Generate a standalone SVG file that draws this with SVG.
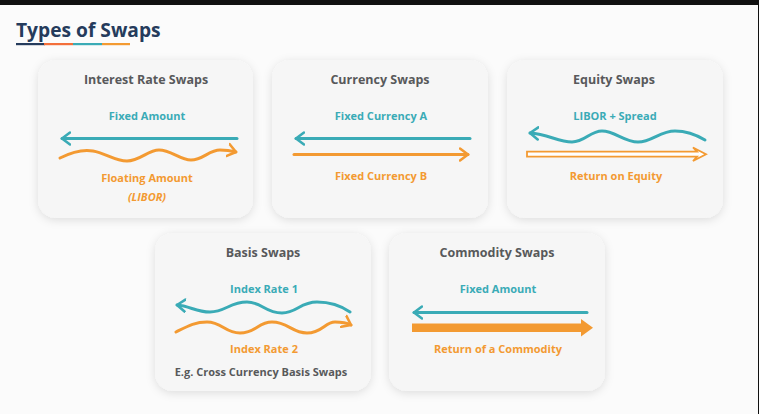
<svg xmlns="http://www.w3.org/2000/svg" width="759" height="414" viewBox="0 0 759 414">
<defs>
<filter id="sh" x="-20%" y="-20%" width="140%" height="140%">
<feDropShadow dx="0" dy="2" stdDeviation="5" flood-color="#000" flood-opacity="0.12"/>
</filter>
<marker id="mt" markerUnits="userSpaceOnUse" markerWidth="16" markerHeight="16" refX="9" refY="7" orient="auto" viewBox="0 0 16 14">
<path d="M1,1 L9,7 L1,13" fill="none" stroke="#3aabb6" stroke-width="2.6" stroke-linecap="round" stroke-linejoin="round"/>
</marker>
<marker id="mo" markerUnits="userSpaceOnUse" markerWidth="16" markerHeight="16" refX="9" refY="7" orient="auto" viewBox="0 0 16 14">
<path d="M1,1 L9,7 L1,13" fill="none" stroke="#f39a32" stroke-width="2.6" stroke-linecap="round" stroke-linejoin="round"/>
</marker>
</defs>
<style>
.card{fill:#f6f6f6;filter:url(#sh)}
.t{font-family:"Open Sans","Liberation Sans",sans-serif;font-weight:700;text-anchor:middle}
.h{font-size:12.5px;fill:#58595b}
.l{font-size:11px}
.tl{fill:#3aabb6}
.or{fill:#f39a32}
.g{fill:#58595b}
.st{stroke:#3aabb6;stroke-width:3;fill:none;stroke-linecap:round}
.so{stroke:#f39a32;stroke-width:3;fill:none;stroke-linecap:round}
</style>
<rect width="759" height="414" fill="#fbfbfb"/>
<rect width="759" height="5" fill="#111"/>
<rect x="758" width="1" height="414" fill="#111"/>
<g id="title">
<text x="16" y="37" font-family="'Open Sans','Liberation Sans',sans-serif" font-weight="700" font-size="19.2" fill="#253b5c">Types of Swaps</text>
<rect x="16" y="43" width="29" height="2.2" fill="#253b5c"/>
<rect x="44" y="43" width="29" height="2.2" fill="#f36f3a"/>
<rect x="73" y="43" width="29" height="2.2" fill="#3aabb6"/>
<rect x="102" y="43" width="28" height="2.2" fill="#f39a32"/>
</g>
<g id="interest-rate-swaps">
<rect class="card" x="38" y="60" width="215" height="158" rx="18"/>
<text class="t h" x="146" y="84">Interest Rate Swaps</text>
<text class="t l tl" x="147" y="120">Fixed Amount</text>
<text class="t l or" x="147" y="182">Floating Amount</text>
<text class="t l or" x="147" y="201" font-style="italic">(LIBOR)</text>
</g>
<g id="currency-swaps">
<rect class="card" x="272" y="60" width="216" height="158" rx="18"/>
<text class="t h" x="380" y="84">Currency Swaps</text>
<text class="t l tl" x="381" y="120">Fixed Currency A</text>
<text class="t l or" x="381" y="180">Fixed Currency B</text>
</g>
<g id="equity-swaps">
<rect class="card" x="507" y="60" width="216" height="158" rx="18"/>
<text class="t h" x="614" y="84">Equity Swaps</text>
<text class="t l tl" x="615" y="120">LIBOR + Spread</text>
<text class="t l or" x="616" y="180">Return on Equity</text>
</g>
<g id="basis-swaps">
<rect class="card" x="155" y="233" width="216" height="158" rx="18"/>
<text class="t h" x="263" y="257">Basis Swaps</text>
<text class="t l tl" x="264" y="293">Index Rate 1</text>
<text class="t l or" x="264" y="353">Index Rate 2</text>
<text class="t l g" x="261" y="376">E.g. Cross Currency Basis Swaps</text>
</g>
<g id="commodity-swaps">
<rect class="card" x="389" y="233" width="216" height="158" rx="18"/>
<text class="t h" x="497" y="257">Commodity Swaps</text>
<text class="t l tl" x="498" y="293">Fixed Amount</text>
<text class="t l or" x="498" y="353">Return of a Commodity</text>
</g>
<g id="connectors">
<path class="st" d="M237,138.5 L62,138.5" marker-end="url(#mt)"/>
<path class="so" d="M60,158 C72,152 82,149 93,151 C105,153 115,161 127,161 C140,161 148,150 159,150 C171,150 180,160 191,160 C203,160 209,150 220,150 C228,150 232,151 236,152" marker-end="url(#mo)"/>
<path class="st" d="M470,138.5 L296,138.5" marker-end="url(#mt)"/>
<path class="so" d="M294,154.5 L468,154.5" marker-end="url(#mo)"/>
<path class="st" d="M705,140 C695,134 687,131 675,131 C660,131 652,142 638,142 C624,142 615,131 602,131 C590,131 585,142 572,142 C558,142 548,134 530,133" marker-end="url(#mt)"/>
<path d="M527,151.7 L697,151.7 L693,147.5 L706,154.2 L693,161 L697,156.7 L527,156.7 Z" fill="#fff" stroke="#f39a32" stroke-width="1.8" stroke-linejoin="miter"/>
<path class="st" d="M350,312 C340,305 330,302 317,302 C300,302 297,313 282,313 C265,313 262,302 247,302 C230,302 225,312 210,312 C196,312 190,306 177,305" marker-end="url(#mt)"/>
<path class="so" d="M176,332 C188,326 195,322 207,322 C222,322 225,333 240,333 C256,333 258,322 272,322 C288,322 292,333 307,333 C322,333 325,322 335,322 C343,322 347,323 351,325" marker-end="url(#mo)"/>
<path class="st" d="M587,312.5 L414,312.5" marker-end="url(#mt)"/>
<path d="M412,323.5 L581,323.5 L581,319 L593,327.8 L581,336.5 L581,332 L412,332 Z" fill="#f39a32"/>
</g>
</svg>
